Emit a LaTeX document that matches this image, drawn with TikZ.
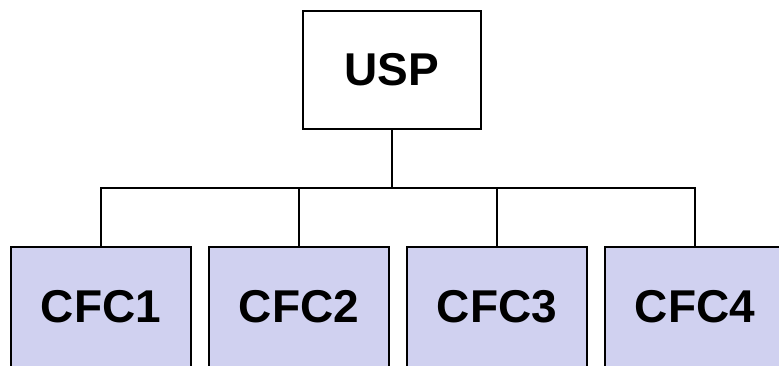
\documentclass[tikz,border=0pt]{standalone}
\usepackage{fontspec}
\setmainfont{Liberation Sans}
\usetikzlibrary{positioning}
\definecolor{cfcfill}{RGB}{208,209,240}
\tikzstyle{tikzusp} = [rectangle, minimum width=178pt, minimum height=118pt, text centered, draw=black, line width=1.2pt, outer sep=0pt, font=\fontsize{46}{50}\selectfont\bfseries]
\tikzstyle{tikzcfc} = [rectangle, minimum width=180pt, minimum height=120pt, text centered, draw=black, fill=cfcfill, line width=1.2pt, outer sep=0pt, font=\fontsize{46}{50}\selectfont\bfseries]

\begin{document}
\begin{tikzpicture}[x=1pt, y=-1pt, node distance=18pt]
    \useasboundingbox (0,0) rectangle (779,365);
    \clip (0,0) rectangle (779,365);
    \node (usp)  [tikzusp] at (392,70) {USP};
    \node (cfc1) [tikzcfc] at (101,307) {CFC1};
    \node (cfc2) [tikzcfc, right=of cfc1] {CFC2};
    \node (cfc3) [tikzcfc, right=of cfc2] {CFC3};
    \node (cfc4) [tikzcfc, right=of cfc3] {CFC4};
    \coordinate (bus) at (392,188);

    \draw [line width=1.2pt] (usp) -- (usp |- bus);
    \draw [line width=1.2pt] (cfc1.north) -- (cfc1.north |- bus) -- (cfc4.north |- bus) -- (cfc4.north);
    \draw [line width=1.2pt] (cfc2.north) -- (cfc2.north |- bus);
    \draw [line width=1.2pt] (cfc3.north) -- (cfc3.north |- bus);
\end{tikzpicture}
\end{document}
